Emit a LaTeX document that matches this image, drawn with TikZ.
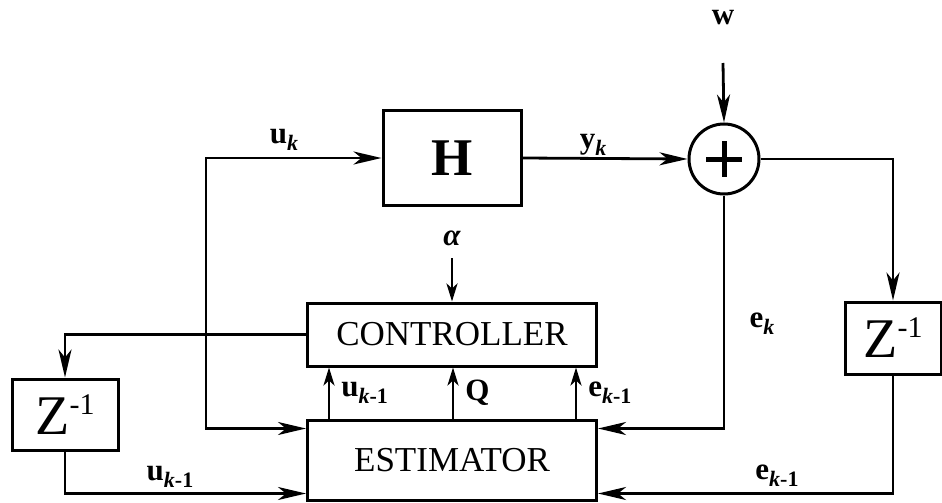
\documentclass[tikz,border=0pt]{standalone}
\usepackage{fontspec}
\setmainfont{Liberation Serif}
\usetikzlibrary{arrows.meta,calc}

% subscript used in the signal labels
\newcommand{\idx}[1]{\raisebox{-7pt}{\fontsize{22}{22}\selectfont #1}}

\begin{document}
\begin{tikzpicture}[x=1pt, y=-1pt, line width=2.8pt,
  blk/.style={draw, rectangle, inner sep=0pt, line width=3pt},
  lab/.style={font=\fontsize{31}{31}\selectfont\bfseries, inner sep=2pt},
  >={Stealth[length=28pt, width=13pt, inset=8pt]},
  sml/.style={-{Stealth[length=18pt, width=11pt, inset=5pt]}}]
  \useasboundingbox (0,0) rectangle (942,503);
  % blocks
  \node[blk, minimum width=138pt, minimum height=95pt, font=\fontsize{53}{53}\selectfont\bfseries] (plant) at (452,158) {H};
  \node[blk, circle, minimum size=70pt] (sum) at (724,159) {};
  \draw[line width=5pt] (sum.center) ++(-18,0) -- ++(36,0) (sum.center) ++(0,-18) -- ++(0,36);
  \node[blk, minimum width=289pt, minimum height=63pt, font=\fontsize{35}{35}\selectfont] (ctrl) at (452,334.5) {CONTROLLER};
  \node[blk, minimum width=289pt, minimum height=80pt, font=\fontsize{35}{35}\selectfont] (est) at (452,460) {ESTIMATOR};
  \node[blk, minimum width=106pt, minimum height=71pt, font=\fontsize{56}{56}\selectfont] (zl) at (65,414.5) {Z{\fontsize{30}{30}\selectfont\raisebox{20pt}{-1}}};
  \node[blk, minimum width=96pt, minimum height=72pt, font=\fontsize{56}{56}\selectfont] (zr) at (893,338) {Z{\fontsize{30}{30}\selectfont\raisebox{20pt}{-1}}};
  % inputs from outside
  \node[lab] (w) at (723,18) {w};
  \node[lab] (alpha) at (452,238) {\itshape α};
  \coordinate (win) at (723,63);
  \coordinate (ain) at (452,258);
  \coordinate (ucorner) at (206,158);
  \draw[->] (win) -- (sum.north);
  \draw[sml] (ain) -- (ctrl.north);
  % forward path
  \draw[<->] ([yshift=-10pt]est.north west) -| (ucorner) -- (plant.west);
  \draw[->] (plant.east) -- (sum.west);
  \draw[->] (sum.east) -| (zr.north);
  \draw[->] (sum.south) |- ([yshift=-10pt]est.north east);
  \draw[->] (zr.south) |- ([yshift=8pt]est.south east);
  \draw[->] (ctrl.west) -| (zl.north);
  \draw[->] (zl.south) |- ([yshift=8pt]est.south west);
  % estimator to controller
  \foreach \dx/\lab in {23/u\idx{{\itshape k}-1}, 147/Q, 270/e\idx{{\itshape k}-1}} {
    \draw[sml] ($(est.north west)+(\dx,0)$) -- ($(ctrl.south west)+(\dx,0)$)
      node[lab, midway, right=9pt] {\lab};
  }
  % signal labels
  \node[lab] (uk) at (284,140) {u\idx{\itshape k}};
  \node[lab] (yk) at (593,145) {y\idx{\itshape k}};
  \node[lab] (ek) at (762,324) {e\idx{\itshape k}};
  \node[lab] (ekm) at (777,476) {e\idx{{\itshape k}-1}};
  \node[lab] (ukm) at (170,477) {u\idx{{\itshape k}-1}};
\end{tikzpicture}
\end{document}
